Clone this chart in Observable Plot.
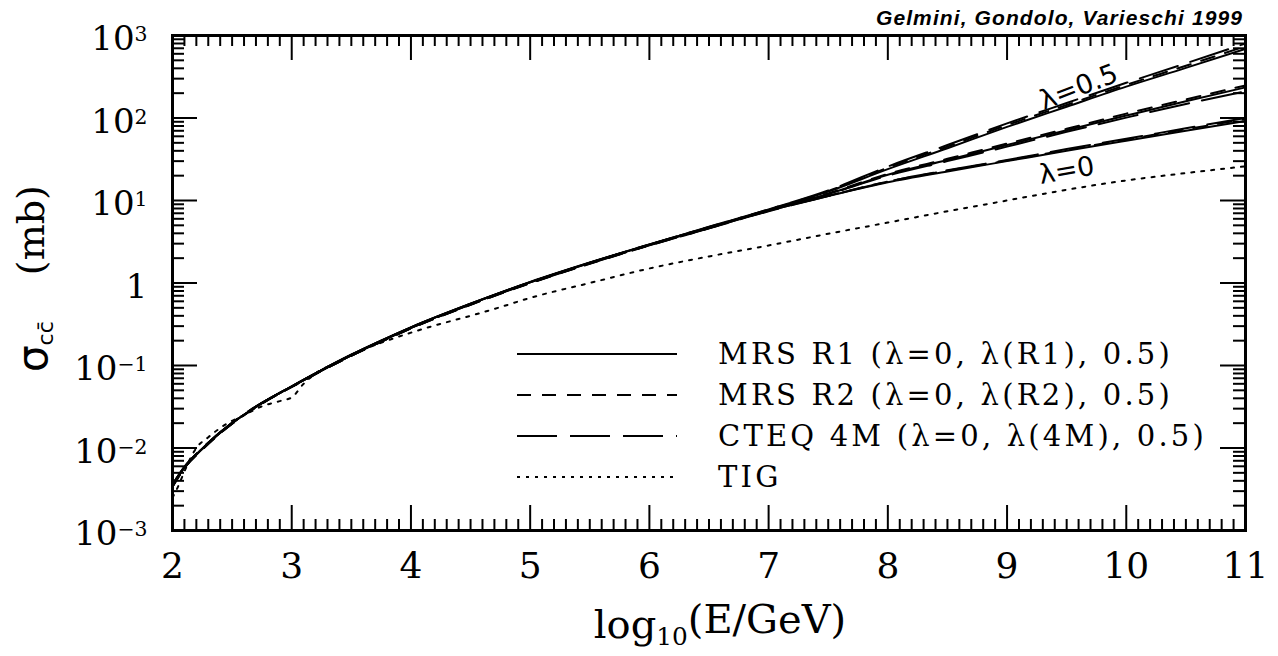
<!DOCTYPE html>
<html><head><meta charset="utf-8">
<script src="https://cdn.jsdelivr.net/npm/d3@7"></script>
<script src="https://cdn.jsdelivr.net/npm/@observablehq/plot@0.6"></script>
<style>body{margin:0;background:#fff}#chart{width:1278px;height:656px}</style>
</head><body><div id="chart"></div>
<script>
// ---- data ----
const xGrid = [2, 2.1, 2.25, 2.5, 2.75, 3, 3.25, 3.5, 3.75, 4, 4.5, 5, 5.5, 6, 6.5, 7, 7.5, 8, 8.5, 9, 9.5, 10, 10.5, 11];
// MRS R1 (solid)
const mrsR1_lam0   = [0.0035,0.0058,0.0098,0.020,0.035,0.056,0.088,0.135,0.200,0.290,0.56,1.02,1.75,2.90,4.65,7.5, 11.3,16.6,22.5,30.0,40,53,70,92];
const mrsR1_lamR1  = [0.0035,0.0058,0.0098,0.020,0.035,0.056,0.088,0.135,0.200,0.290,0.56,1.02,1.76,2.92,4.70,7.6, 12.0,20.5,31.0,47.0,71,107,160,235];
const mrsR1_lam05  = [0.0035,0.0058,0.0098,0.020,0.035,0.056,0.088,0.135,0.200,0.290,0.56,1.03,1.77,2.94,4.75,7.7, 12.8,24.0,43.0,78.0,137,240,405,690];
// MRS R2 (short dashes)
const mrsR2_lam0   = [0.0034,0.0057,0.0096,0.0197,0.0345,0.055,0.086,0.131,0.194,0.282,0.545,0.99,1.71,2.85,4.60,7.5, 11.4,17.0,23.0,30.5,41,55,73,97];
const mrsR2_lamR2  = [0.0034,0.0057,0.0096,0.0197,0.0345,0.055,0.086,0.131,0.194,0.282,0.545,1.00,1.73,2.88,4.70,7.7, 12.2,21.0,32.0,49.0,74,113,168,248];
const mrsR2_lam05  = [0.0034,0.0057,0.0096,0.0197,0.0345,0.055,0.086,0.131,0.194,0.282,0.550,1.01,1.75,2.92,4.78,7.8, 13.0,25.0,45.0,82.0,144,252,430,740];
// CTEQ 4M (long dashes)
const cteq4M_lam0  = [0.0036,0.0059,0.0099,0.0202,0.0352,0.0555,0.087,0.133,0.197,0.286,0.55,1.00,1.72,2.86,4.60,7.4, 11.3,17.0,23.3,31.0,42,56,75,100];
const cteq4M_lam4M = [0.0036,0.0059,0.0099,0.0202,0.0352,0.0555,0.087,0.133,0.197,0.286,0.55,1.01,1.73,2.88,4.66,7.6, 11.9,20.0,30.0,45.0,68,101,148,210];
const cteq4M_lam05 = [0.0036,0.0059,0.0099,0.0202,0.0352,0.0555,0.087,0.133,0.197,0.286,0.555,1.02,1.76,2.94,4.80,7.8, 13.2,25.8,47.0,86.0,152,267,460,800];
// TIG (dotted)
const tigX = [2, 2.05, 2.1, 2.15, 2.2, 2.3, 2.45, 2.6, 2.75, 2.9, 3.0, 3.1, 3.2, 3.4, 3.6, 3.8, 4.0, 4.25, 4.5, 4.75, 5.0, 5.5, 6.0, 6.5, 7.0, 7.5, 8.0, 8.5, 9.0, 9.5, 10, 10.5, 11];
const tigY = [0.0025,0.0035,0.0052,0.0075,0.0100,0.0135,0.0195,0.025,0.032,0.037,0.041,0.060,0.080,0.112,0.155,0.200,0.25,0.32,0.40,0.51,0.66,1.0,1.50,2.10,2.85,3.95,5.4,7.4,10.0,13.5,17.5,21.5,26];

const xTickLabels = [2, 3, 4, 5, 6, 7, 8, 9, 10, 11];
const yTickValues = [1e-3, 1e-2, 1e-1, 1, 1e1, 1e2, 1e3];
const legendLabels = ["MRS R1 (λ=0, λ(R1), 0.5)", "MRS R2 (λ=0, λ(R2), 0.5)", "CTEQ 4M (λ=0, λ(4M), 0.5)", "TIG"];
const annotationLabels = ["λ=0.5", "λ=0"];
const credit = "Gelmini, Gondolo, Varieschi 1999";

// ---- build tables ----
const series = [
  {key:"R1-0", pdf:"R1", y:mrsR1_lam0}, {key:"R1-m", pdf:"R1", y:mrsR1_lamR1}, {key:"R1-5", pdf:"R1", y:mrsR1_lam05},
  {key:"R2-0", pdf:"R2", y:mrsR2_lam0}, {key:"R2-m", pdf:"R2", y:mrsR2_lamR2}, {key:"R2-5", pdf:"R2", y:mrsR2_lam05},
  {key:"C-0", pdf:"C", y:cteq4M_lam0}, {key:"C-m", pdf:"C", y:cteq4M_lam4M}, {key:"C-5", pdf:"C", y:cteq4M_lam05}
];
const rows = series.flatMap(s => s.y.map((v, i) => ({x: xGrid[i], y: v, key: s.key, pdf: s.pdf})));
const tigRows = tigX.map((x, i) => ({x, y: tigY[i]}));

const W = 1278, H = 656, mL = 172, mR = 33, mT = 35, mB = 126;
const innerW = W - mL - mR, innerH = H - mT - mB;
const xMinor = d3.range(20, 111).filter(i => i % 10).map(i => i / 10);
const yMinor = d3.range(-3, 3).flatMap(e => d3.range(2, 10).map(m => m * Math.pow(10, e)));

const dashes = {R1: null, R2: "14,11", C: "40,13"};
const lineMarks = ["R1", "R2", "C"].map(p => Plot.line(rows.filter(r => r.pdf === p), {
  x: "x", y: "y", z: "key", stroke: "black", strokeWidth: 2, curve: "monotone-x",
  strokeDasharray: dashes[p] || undefined
}));

const chart = Plot.plot({
  width: W, height: H, marginLeft: mL, marginRight: mR, marginTop: mT, marginBottom: mB,
  x: {domain: [2, 11]},
  y: {type: "log", domain: [1e-3, 1e3]},
  style: {fontFamily: "DejaVu Serif", background: "white", color: "black", overflow: "visible"},
  marks: [
    ...lineMarks,
    Plot.line(tigRows, {x: "x", y: "y", stroke: "black", strokeWidth: 2, strokeDasharray: "3,7", curve: "monotone-x"}),
    Plot.tickX(xMinor, {x: d => d, insetTop: innerH - 11, strokeWidth: 2}),
    Plot.tickX(xMinor, {x: d => d, insetBottom: innerH - 11, strokeWidth: 2}),
    Plot.tickX(xTickLabels, {x: d => d, insetTop: innerH - 25, strokeWidth: 2}),
    Plot.tickX(xTickLabels, {x: d => d, insetBottom: innerH - 25, strokeWidth: 2}),
    Plot.tickY(yMinor, {y: d => d, insetRight: innerW - 12, strokeWidth: 2}),
    Plot.tickY(yMinor, {y: d => d, insetLeft: innerW - 12, strokeWidth: 2}),
    Plot.tickY(yTickValues, {y: d => d, insetRight: innerW - 25, strokeWidth: 2}),
    Plot.tickY(yTickValues, {y: d => d, insetLeft: innerW - 25, strokeWidth: 2}),
    Plot.frame({stroke: "black", strokeWidth: 3}),
    Plot.axisX({ticks: xTickLabels, tickSize: 0, tickPadding: 22, fontSize: 36, label: null, tickFormat: d => String(d)}),
    Plot.axisY({ticks: yTickValues, tickSize: 0, tickPadding: 25, fontSize: 34, label: null, dy: 4,
      tickFormat: d => d === 1 ? "1" : "10^" + Math.round(Math.log10(d))}),
    Plot.text([annotationLabels[0]], {x: 9.6, y: 236, text: d => d, rotate: -21, fontSize: 27, fontFamily: "DejaVu Sans"}),
    Plot.text([annotationLabels[1]], {x: 9.5, y: 23, text: d => d, rotate: -10, fontSize: 27, fontFamily: "DejaVu Sans"})
  ]
});
document.getElementById("chart").appendChild(chart);

// ---- post-processing: superscripts, axis titles, legend, credit ----
const svg = d3.select(chart);
svg.selectAll('g[aria-label="y-axis tick label"] text').each(function () {
  const s = this.textContent;
  if (s.includes("^")) {
    const [b, e] = s.split("^");
    const t = d3.select(this);
    t.text(b);
    t.append("tspan").attr("dy", "-0.45em").attr("font-size", "0.6em").text(e.replace("-", "−"));
  }
});

// credit line
svg.append("text").attr("x", 1243).attr("y", 25).attr("text-anchor", "end")
  .attr("font-family", "Liberation Sans").attr("font-size", 21).attr("font-weight", "bold")
  .attr("font-style", "italic").attr("letter-spacing", "1.1px").attr("fill", "black").text(credit);

// x title
const xt = svg.append("text").attr("x", 720).attr("y", 638).attr("text-anchor", "middle")
  .attr("font-family", "DejaVu Serif").attr("font-size", 40).attr("fill", "black");
xt.append("tspan").text("log");
xt.append("tspan").attr("dy", "0.3em").attr("font-size", "0.62em").text("10");
xt.append("tspan").attr("dy", "-0.3em").text("(E/GeV)");

// y title
const yt = svg.append("text").attr("transform", "translate(47,372) rotate(-90)").attr("text-anchor", "start")
  .attr("font-family", "DejaVu Serif").attr("font-size", 38).attr("fill", "black");
yt.append("tspan").attr("font-family", "DejaVu Sans").attr("font-size", 42).text("σ");
yt.append("tspan").attr("dy", 6).attr("font-size", 22).attr("font-family", "DejaVu Sans").text("cc\u0304");
yt.append("tspan").attr("dy", -9).attr("dx", 46).text("(mb)");

// legend
const legendDash = [null, "14,11", "40,13", "3,6"];
const lg = svg.append("g").attr("font-family", "DejaVu Serif").attr("font-size", 29).attr("text-anchor", "start");
legendLabels.forEach((lab, i) => {
  const y = 354 + 41 * i;
  const ln = lg.append("line").attr("x1", 517).attr("x2", 677).attr("y1", y).attr("y2", y)
    .attr("stroke", "black").attr("stroke-width", 2);
  if (legendDash[i]) ln.attr("stroke-dasharray", legendDash[i]);
  lg.append("text").attr("x", 718).attr("y", y).attr("dy", "0.36em").attr("letter-spacing", "3.2px").text(lab);
});
</script></body></html>
